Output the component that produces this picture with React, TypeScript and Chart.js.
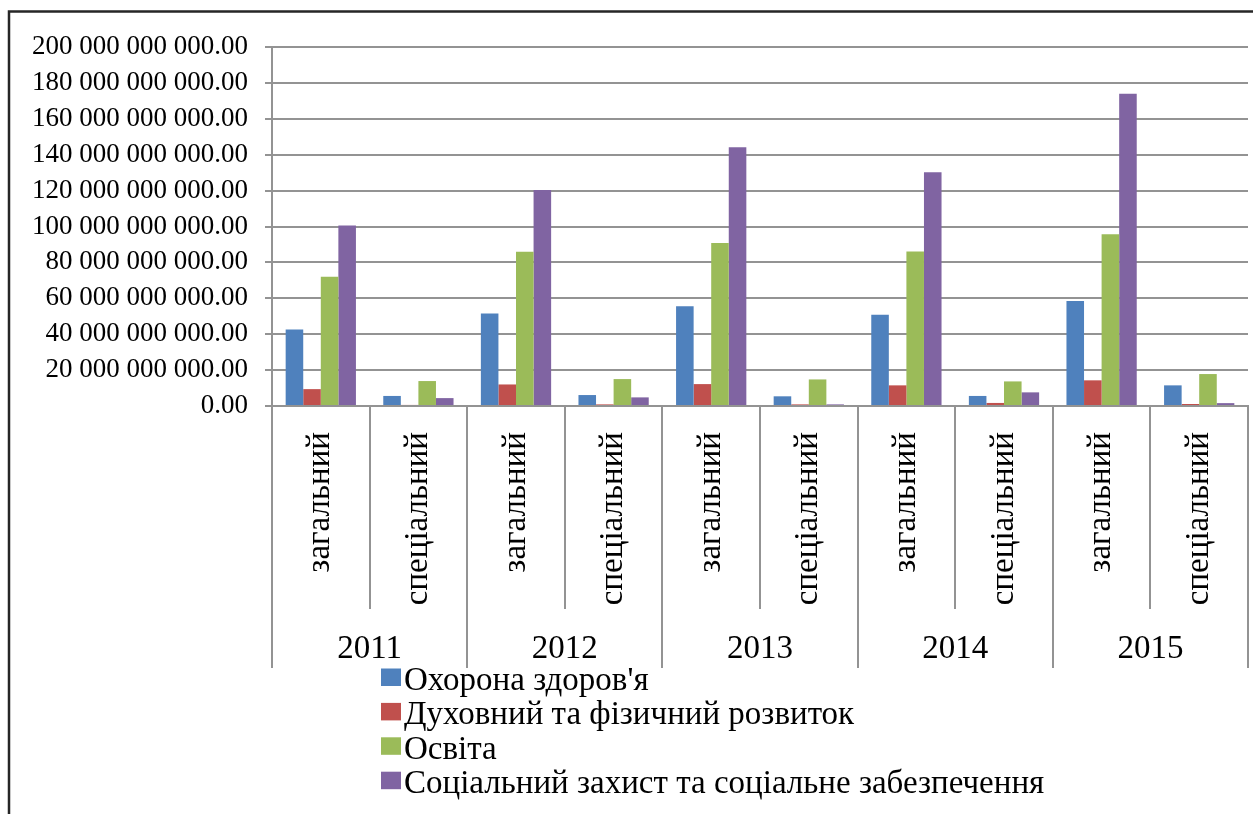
import React, { useEffect, useRef } from 'react';
import { Chart, registerables } from 'chart.js';

Chart.register(...registerables);

// ---- data ----
const years = ['2011', '2012', '2013', '2014', '2015'];
const categories = [
  'загальний', 'спеціальний',
  'загальний', 'спеціальний',
  'загальний', 'спеціальний',
  'загальний', 'спеціальний',
  'загальний', 'спеціальний',
];
const seriesNames = [
  "Охорона здоров'я",
  'Духовний та фізичний розвиток',
  'Освіта',
  'Соціальний захист та соціальне забезпечення',
];
const healthValues = [42.6e9, 5.6e9, 51.5e9, 6.1e9, 55.6e9, 5.4e9, 50.9e9, 5.6e9, 58.5e9, 11.5e9];
const spiritualValues = [9.4e9, 0.6e9, 12.0e9, 0.9e9, 12.2e9, 0.9e9, 11.5e9, 1.7e9, 14.3e9, 1.1e9];
const educationValues = [72.0e9, 13.9e9, 86.0e9, 15.0e9, 90.8e9, 14.8e9, 86.1e9, 13.7e9, 95.7e9, 17.8e9];
const socialValues = [100.6e9, 4.4e9, 120.4e9, 4.8e9, 144.1e9, 0.9e9, 130.2e9, 7.6e9, 173.9e9, 1.6e9];
const seriesColors = ['#4F81BD', '#C0504D', '#9BBB59', '#8064A2'];
const yMin = 0;
const yMax = 200e9;
const yStep = 20e9;

const FONT = '"Liberation Serif", "Times New Roman", serif';
const GRID = '#939393';

const formatTick = (v: number | string) => {
  const [i, d] = Number(v).toFixed(2).split('.');
  return i.replace(/\B(?=(\d{3})+(?!\d))/g, ' ') + '.' + d;
};

const framePlugin = {
  id: 'frame',
  beforeDraw(chart: any) {
    const ctx = chart.ctx;
    ctx.save();
    ctx.strokeStyle = '#262626';
    ctx.lineWidth = 2.5;
    ctx.beginPath();
    ctx.moveTo(9, chart.height);
    ctx.lineTo(9, 11.5);
    ctx.lineTo(chart.width, 11.5);
    ctx.stroke();
    ctx.restore();
  },
};

const legendPlugin = {
  id: 'verticalLegend',
  afterDraw(chart: any) {
    const ctx = chart.ctx;
    const x2 = chart.scales.x2;
    const startY = x2.bottom + 22;
    const pitch = 34.4;
    ctx.save();
    ctx.font = `33px ${FONT}`;
    ctx.textBaseline = 'alphabetic';
    ctx.textAlign = 'left';
    chart.data.datasets.forEach((ds: any, i: number) => {
      const base = startY + i * pitch;
      ctx.fillStyle = ds.backgroundColor;
      ctx.fillRect(381, base - 21.5, 20, 17.5);
      ctx.fillStyle = '#000';
      ctx.fillText(ds.label, 404, base);
    });
    ctx.restore();
  },
};

export default function App() {
  const ref = useRef<HTMLCanvasElement | null>(null);

  useEffect(() => {
    if (!ref.current) return;
    const seriesValues = [healthValues, spiritualValues, educationValues, socialValues];
    const chart = new Chart(ref.current, {
      type: 'bar',
      data: {
        labels: categories,
        datasets: seriesNames.map((name, i) => ({
          label: name,
          data: seriesValues[i],
          backgroundColor: seriesColors[i],
          borderWidth: 0,
          categoryPercentage: 0.72,
          barPercentage: 1.0,
          xAxisID: 'x',
          yAxisID: 'y',
        })),
      },
      options: {
        responsive: false,
        animation: false,
        devicePixelRatio: 1,
        layout: { padding: { left: 0, top: 47, right: 5, bottom: 146 } },
        plugins: {
          legend: { display: false },
          tooltip: { enabled: false },
        },
        scales: {
          x: {
            type: 'category',
            position: 'bottom',
            offset: true,
            weight: 0,
            grid: {
              offset: true,
              drawOnChartArea: false,
              drawTicks: true,
              tickLength: 203,
              color: GRID,
              lineWidth: 2,
            },
            border: { display: true, color: GRID, width: 2 },
            ticks: {
              autoSkip: false,
              minRotation: 90,
              maxRotation: 90,
              padding: -177,
              color: '#000',
              font: { family: FONT, size: 33 },
            },
            afterFit: (s: any) => {
              s.height = 203;
            },
          },
          x2: {
            type: 'category',
            labels: years,
            position: 'bottom',
            offset: true,
            weight: 1,
            grid: {
              offset: true,
              drawOnChartArea: false,
              drawTicks: true,
              tickLength: 59,
              color: GRID,
              lineWidth: 2,
            },
            border: { display: false },
            ticks: {
              autoSkip: false,
              minRotation: 0,
              maxRotation: 0,
              padding: -38,
              color: '#000',
              font: { family: FONT, size: 33 },
            },
            afterFit: (s: any) => {
              s.height = 59;
            },
          },
          y: {
            type: 'linear',
            position: 'left',
            min: yMin,
            max: yMax,
            grid: { color: GRID, lineWidth: 2, drawTicks: true, tickLength: 7 },
            border: { display: true, color: GRID, width: 2 },
            ticks: {
              stepSize: yStep,
              padding: 17,
              color: '#000',
              font: { family: FONT, size: 27 },
              callback: (v: any) => formatTick(v),
            },
            afterFit: (s: any) => {
              s.width = 272;
            },
          },
        },
      } as any,
      plugins: [framePlugin, legendPlugin],
    });
    return () => chart.destroy();
  }, []);

  return (
    <div style={{ position: 'absolute', left: 0, top: 0, width: 1253, height: 814 }}>
      <canvas ref={ref} width={1253} height={814} style={{ display: 'block' }} />
    </div>
  );
}
